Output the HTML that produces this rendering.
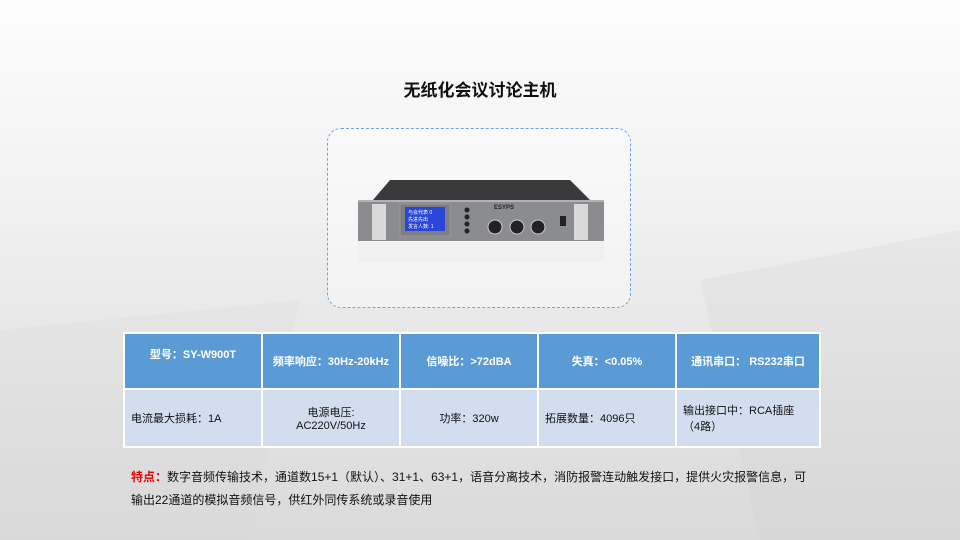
<!DOCTYPE html>
<html><head><meta charset="utf-8"><style>
body{margin:0;width:960px;height:540px;overflow:hidden;font-family:"Liberation Sans","Noto Sans CJK SC",sans-serif;}
.bg{position:absolute;inset:0;background:linear-gradient(180deg,#fdfdfd 0%,#f2f2f2 35%,#e4e4e4 70%,#dadada 100%);}
.t{position:absolute;left:0;width:960px;top:76px;text-align:center;font-size:17px;font-weight:bold;color:#111;}
.box{position:absolute;left:327px;top:128px;width:302px;height:178px;border:1.5px dashed #6fa3e8;border-radius:14px;background:rgba(255,255,255,0.4);}
table{position:absolute;left:123px;top:332px;border-collapse:collapse;width:698px;}
td{border:2px solid #fff;font-size:11px;color:#111;text-align:center;padding:0;}
tr.h td{background:#5b9bd5;color:#fff;font-weight:bold;height:54px;}
tr.b td{background:#d2deef;height:56px;}
.f{position:absolute;left:131px;top:466px;width:695px;font-size:12px;line-height:23px;color:#111;}
</style></head><body>
<div class="bg"></div>
<svg width="960" height="540" style="position:absolute;left:0;top:0">
<polygon points="0,330 300,300 250,540 0,540" fill="#d8d8d8" opacity=".2"/>
<polygon points="700,280 960,230 960,540 760,540" fill="#cfcfcf" opacity=".2"/>
</svg>
<div class="t">无纸化会议讨论主机</div>
<div class="box"></div>
<svg width="960" height="540" style="position:absolute;left:0;top:0">
<polygon points="390,180 570,180 590,200 373,200" fill="#3a3a3c"/>
<rect x="358" y="200" width="246" height="41" fill="#8a8c90"/>
<rect x="358" y="200" width="246" height="2" fill="#b0b2b5"/>
<rect x="372" y="204" width="14" height="36" fill="#d8d8d8"/><rect x="574" y="204" width="14" height="36" fill="#d8d8d8"/>
<rect x="400" y="204" width="50" height="32" fill="#7c7e82" stroke="#999"/>
<rect x="405" y="207" width="40" height="24" fill="#2a46d8"/>
<text x="408" y="214" font-size="5" fill="#fff">与会代表 0</text>
<text x="408" y="221" font-size="5" fill="#fff">先进先出</text>
<text x="408" y="228" font-size="5" fill="#fff">发言人数: 1</text>
<g fill="#222"><circle cx="467" cy="210" r="2.5"/><circle cx="467" cy="217" r="2.5"/><circle cx="467" cy="224" r="2.5"/><circle cx="467" cy="231" r="2.5"/></g>
<text x="494" y="209" font-size="6" font-weight="bold" fill="#222">ESYPS</text>
<g fill="#222" stroke="#ccc"><circle cx="495" cy="227" r="7"/><circle cx="517" cy="227" r="7"/><circle cx="538" cy="227" r="7"/></g>
<rect x="560" y="216" width="6" height="10" fill="#222"/>
<rect x="358" y="242" width="246" height="20" fill="#ececec" opacity=".6"/>
</svg>
<table>
<tr class="h"><td style="width:136px"><span style="position:relative;top:-7px">型号：SY-W900T</span></td><td style="width:136px">频率响应：30Hz-20kHz</td><td style="width:136px">信噪比：&gt;72dBA</td><td style="width:136px">失真：&lt;0.05%</td><td>通讯串口： RS232串口</td></tr>
<tr class="b"><td style="text-align:left;padding-left:6px">电流最大损耗：1A</td><td>电源电压:<br>AC220V/50Hz</td><td>功率：320w</td><td style="text-align:left;padding-left:6px">拓展数量：4096只</td><td style="text-align:left;padding-left:6px">输出接口中：RCA插座<br>（4路）</td></tr>
</table>
<div class="f"><b style="color:#e00">特点：</b>数字音频传输技术，通道数15+1（默认）、31+1、63+1，语音分离技术，消防报警连动触发接口，提供火灾报警信息，可<br>输出22通道的模拟音频信号，供红外同传系统或录音使用</div>
</body></html>
